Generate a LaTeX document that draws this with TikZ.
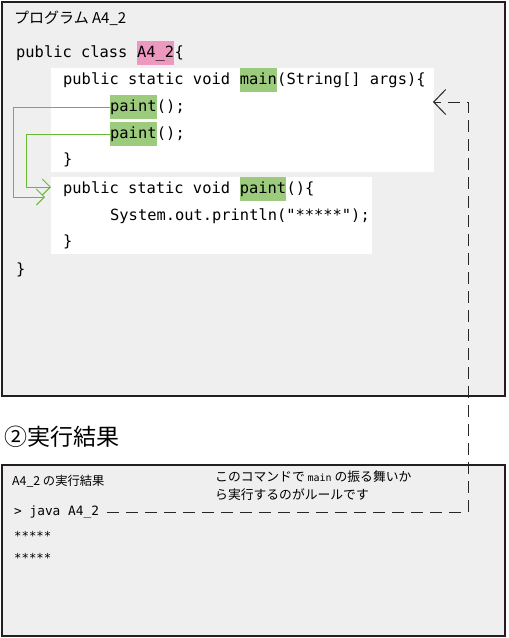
\documentclass[tikz,border=0pt]{standalone}
\usepackage{fontspec}
\setmainfont{Noto Sans CJK JP}
\newfontfamily\codefont{DejaVu Sans Mono}
\usetikzlibrary{arrows.meta,positioning}
\definecolor{panelgray}{HTML}{EFEFEF}
\definecolor{framegray}{HTML}{231F20}
\definecolor{markgreen}{HTML}{9CCB7E}
\definecolor{markpink}{HTML}{EC98BF}
\definecolor{callgreen}{HTML}{66BB33}

\begin{document}
\begin{tikzpicture}[
    x=1pt, y=-1pt,
    panel/.style={draw=framegray, line width=1.2pt, fill=panelgray},
    code/.style={font=\codefont\fontsize{15.4}{18}\selectfont, inner sep=0pt,
      text height=11pt, text depth=3pt},
    hlgreen/.style={code, fill=markgreen, inner ysep=5pt},
    hlpink/.style={code, fill=markpink, inner ysep=5pt},
    call/.style={draw=callgreen, line width=0.9pt, -{Straight Barb[length=8pt, width=16pt]}},
    cmd/.style={draw=black!85, line width=1pt, dash pattern=on 12pt off 7pt,
      -{Straight Barb[length=12pt, width=25pt]}}
  ]
    \useasboundingbox (0,0) rectangle (509,638);
    % program panel
    \draw[panel] (2,2) rectangle (505,396);
    \fill[white] (51,68) rectangle (434,172);
    \fill[white] (51,177) rectangle (372,254);
    \node[anchor=west, inner sep=0pt, font=\fontsize{15}{18}\selectfont] (progtitle) at (14,18) {プログラム A4\_2};

    \node[code, anchor=west] (clshead) at (16,53) {public class\ \null};
    \node[hlpink, right=0pt of clshead] (clsname) {A4\_2};
    \node[code, right=0pt of clsname] (clsopen) {\{};

    \node[code, anchor=west] (mainhead) at (63,80) {public static void\ \null};
    \node[hlgreen, right=0pt of mainhead] (mainname) {main};
    \node[code, right=0pt of mainname] (maintail) {(String[] args)\{};

    \node[hlgreen, anchor=west] (call1) at (110,107) {paint};
    \node[code, right=0pt of call1] (call1tail) {();};
    \node[hlgreen, anchor=west] (call2) at (110,134) {paint};
    \node[code, right=0pt of call2] (call2tail) {();};
    \node[code, anchor=west] (mainclose) at (63,160) {\}};

    \node[code, anchor=west] (declhead) at (63,189) {public static void\ \null};
    \node[hlgreen, right=0pt of declhead] (declname) {paint};
    \node[code, right=0pt of declname] (decltail) {()\{};
    \node[code, anchor=west] (println) at (110,216) {System.out.println("*****");};
    \node[code, anchor=west] (paintclose) at (63,242) {\}};
    \node[code, anchor=west] (clsclose) at (16,270) {\}};

    % calls of paint
    \coordinate (turn1) at (13,197);
    \coordinate (land1) at (45,197);
    \draw[call] (call1.west) -| (turn1) -- (land1);
    \coordinate (turn2) at (26,187);
    \coordinate (land2) at (51,187);
    \draw[call] (call2.west) -| (turn2) -- (land2);

    % result panel
    \node[anchor=west, font=\fontsize{23}{26}\selectfont] (resulthead) at (1,437) {②実行結果};
    \draw[panel] (2,465) rectangle (505,636);
    \node[anchor=west, inner sep=0pt, font=\fontsize{12.3}{14}\selectfont] (outtitle) at (12,481) {A4\_2 の実行結果};
    \node[anchor=north west, align=left, font=\fontsize{12.8}{18}\selectfont, inner sep=0pt] (cmdnote) at (215,471)
      {このコマンドで {\codefont\fontsize{10}{12}\selectfont main} の振る舞いか\\ら実行するのがルールです};
    \node[anchor=west, font=\codefont\fontsize{12.8}{15}\selectfont, inner sep=0pt] (javacmd) at (14,512) {> java A4\_2};
    \node[anchor=west, font=\codefont\fontsize{12.3}{15}\selectfont, inner sep=0pt] (out1) at (14,536) {*****};
    \node[anchor=west, font=\codefont\fontsize{12.3}{15}\selectfont, inner sep=0pt] (out2) at (14,558) {*****};

    % command starts from main
    \coordinate (cmdturn) at (468,102);
    \coordinate (mainland) at (433,102);
    \draw[cmd] ([xshift=8pt]javacmd.east) -| (cmdturn) -- (mainland);
  \end{tikzpicture}
\end{document}
